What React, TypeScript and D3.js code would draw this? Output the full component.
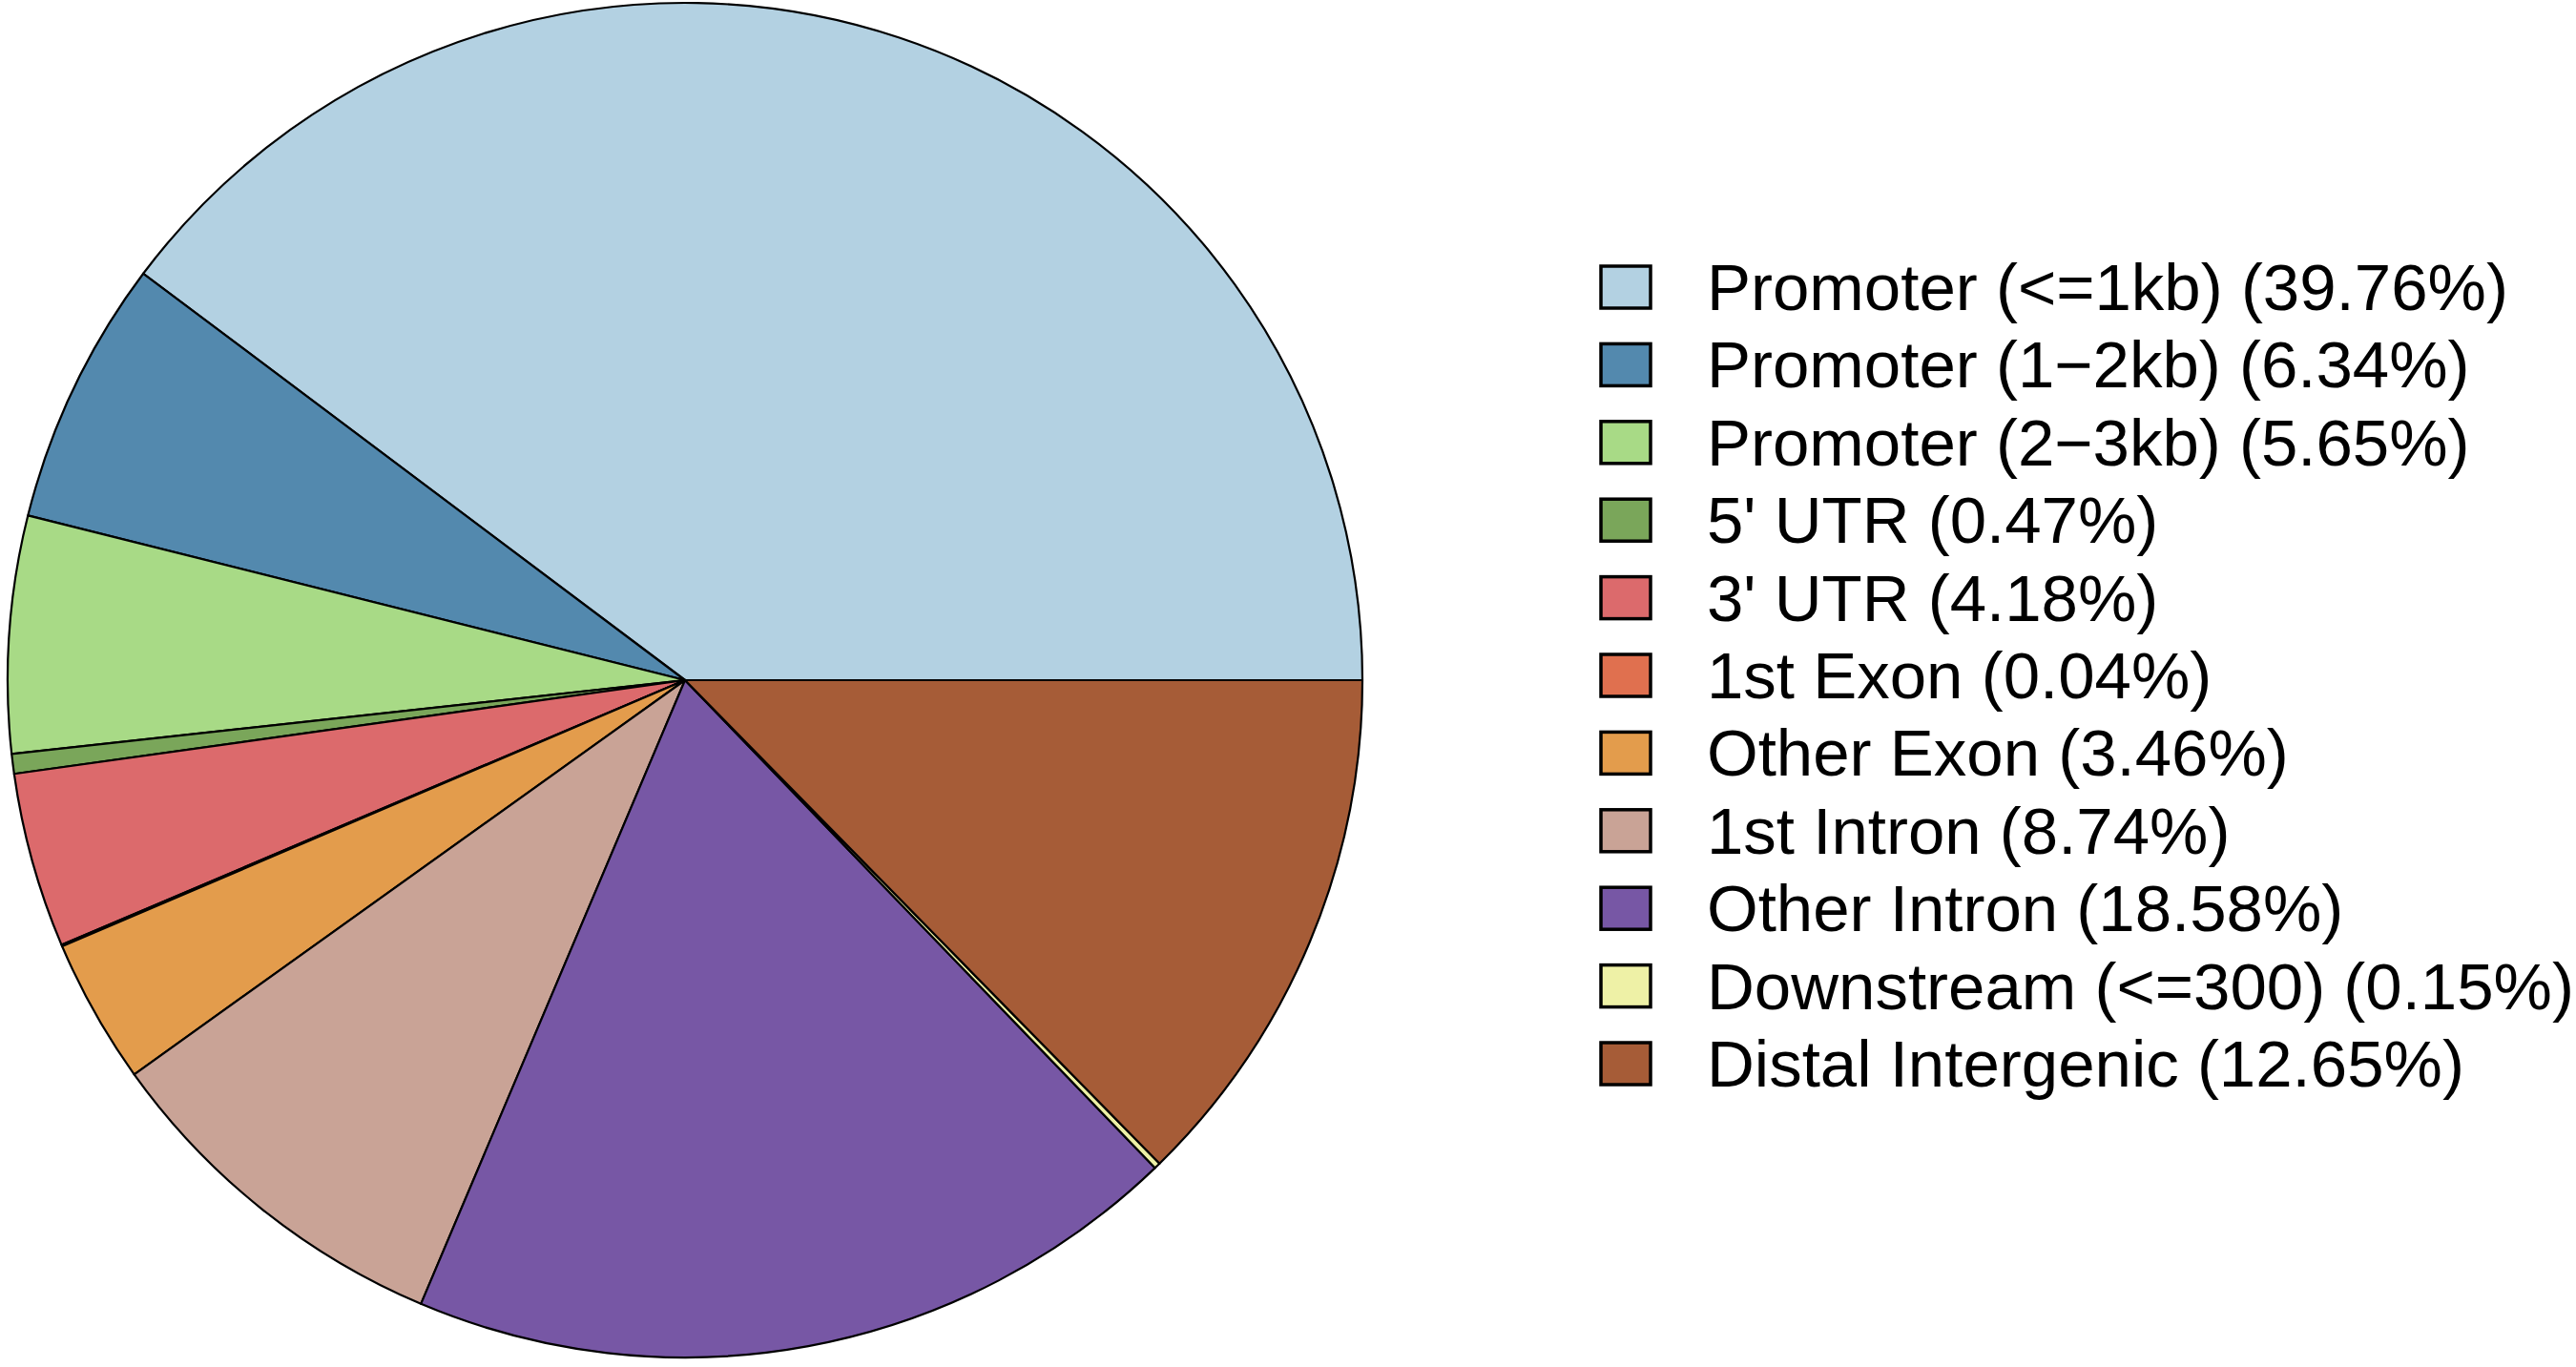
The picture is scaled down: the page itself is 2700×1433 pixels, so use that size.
import React, { useEffect, useRef } from "react";
import * as d3 from "d3";

const categories = [
  "Promoter (<=1kb)",
  "Promoter (1−2kb)",
  "Promoter (2−3kb)",
  "5' UTR",
  "3' UTR",
  "1st Exon",
  "Other Exon",
  "1st Intron",
  "Other Intron",
  "Downstream (<=300)",
  "Distal Intergenic",
];
const percents = [39.76, 6.34, 5.65, 0.47, 4.18, 0.04, 3.46, 8.74, 18.58, 0.15, 12.65];
const colors = [
  "#B3D1E2",
  "#5389AE",
  "#A8DA86",
  "#7AA65A",
  "#DC6A6C",
  "#E0704F",
  "#E39C4C",
  "#C9A396",
  "#7757A5",
  "#EEF1A6",
  "#A65C37",
];

const W = 2700;
const H = 1433;

export default function App() {
  const ref = useRef<SVGSVGElement | null>(null);
  useEffect(() => {
    const svg = d3.select(ref.current);
    svg.selectAll("*").remove();
    svg.append("rect").attr("width", W).attr("height", H).attr("fill", "#ffffff");

    const cx = 718, cy = 713, r = 710;
    const data = categories.map((c, i) => ({ name: c, value: percents[i], color: colors[i] }));
    const pie = d3
      .pie<any>()
      .sort(null)
      .value((d: any) => d.value)
      .startAngle(Math.PI / 2)
      .endAngle(Math.PI / 2 - 2 * Math.PI);
    const arc = d3.arc<any>().innerRadius(0).outerRadius(r);
    const g = svg.append("g").attr("transform", `translate(${cx},${cy})`);
    g.selectAll("path")
      .data(pie(data))
      .enter()
      .append("path")
      .attr("d", arc as any)
      .attr("fill", (d: any) => d.data.color)
      .attr("stroke", "#000")
      .attr("stroke-width", 2.2)
      .attr("stroke-linejoin", "round");

    const leg = svg.append("g");
    const y = d3.scaleLinear().domain([0, categories.length - 1]).range([301, 1115]);
    const rows = leg
      .selectAll("g")
      .data(data)
      .enter()
      .append("g")
      .attr("transform", (_d: any, i: number) => `translate(0,${y(i)})`);
    rows
      .append("rect")
      .attr("x", 1678)
      .attr("y", -22)
      .attr("width", 52)
      .attr("height", 44)
      .attr("fill", (d: any) => d.color)
      .attr("stroke", "#000")
      .attr("stroke-width", 3.5);
    rows
      .append("text")
      .attr("x", 1789)
      .attr("y", 24)
      .attr("font-family", "'Liberation Sans', Arial, Helvetica, sans-serif")
      .attr("font-size", 69)
      .attr("fill", "#000")
      .text((d: any) => `${d.name} (${d.value.toFixed(2)}%)`);
  }, []);
  return (
    <svg
      ref={ref}
      width={W}
      height={H}
      style={{ position: "absolute", left: 0, top: 0, display: "block" }}
    />
  );
}
